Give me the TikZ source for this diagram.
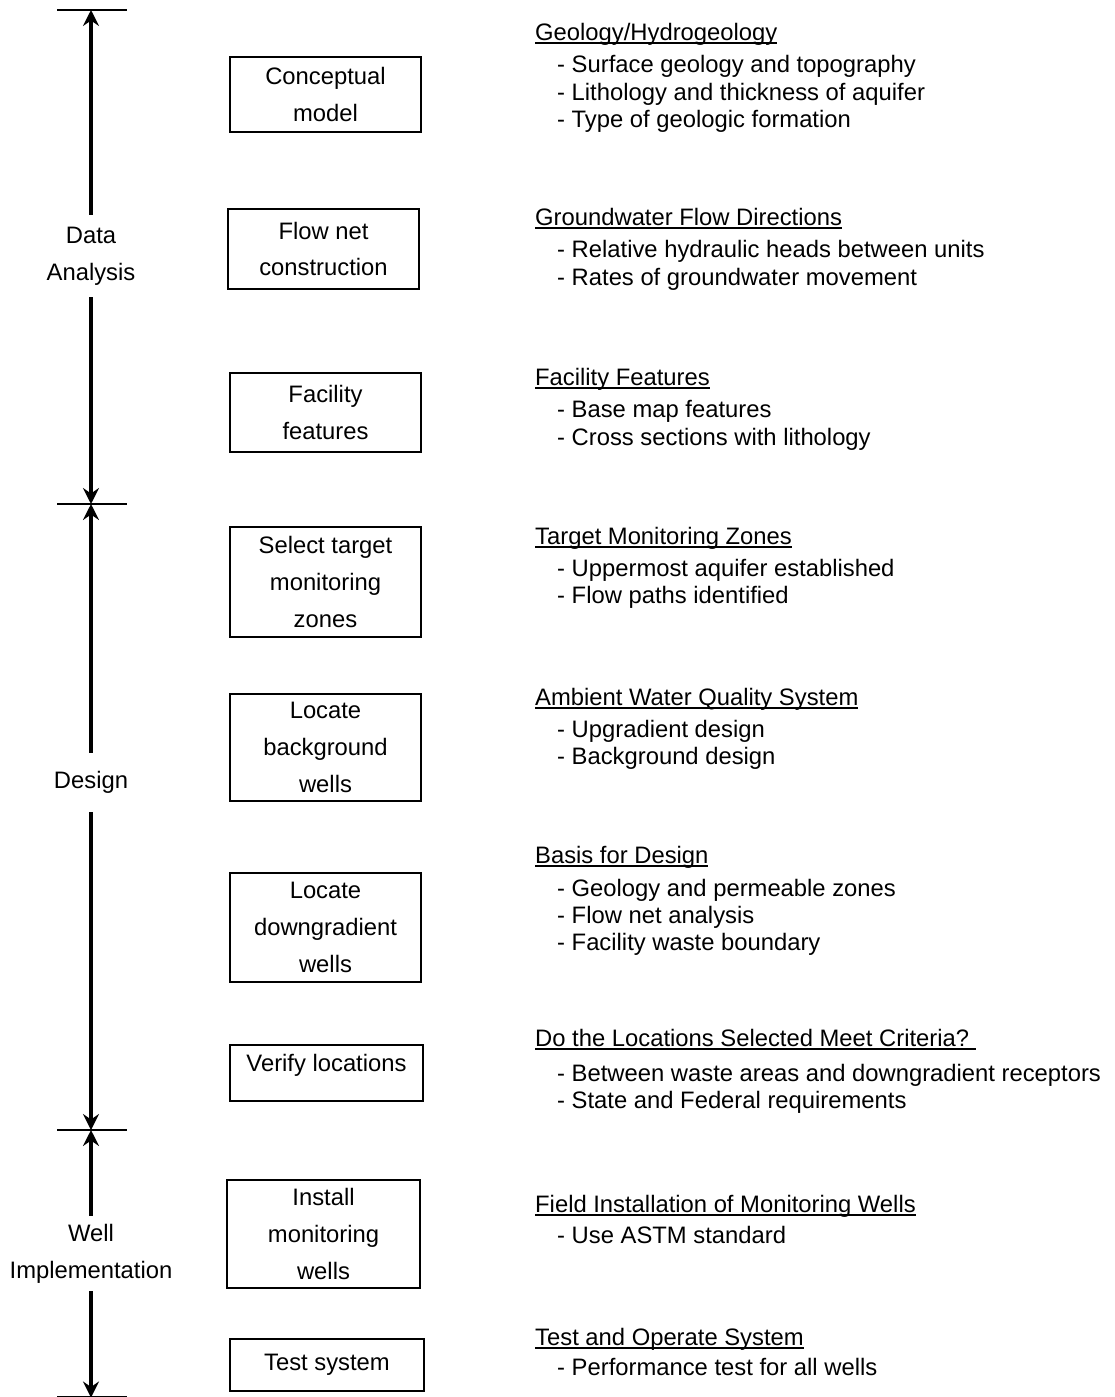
\documentclass[tikz,border=0pt]{standalone}
\usepackage{fontspec}
\setmainfont{Liberation Sans}
\usetikzlibrary{arrows.meta}
\newcommand\undl[1]{\setbox0=\hbox{#1}\rlap{\rule[-3.5pt]{\wd0}{1.7pt}}\box0}
\newcommand\ditem[3]{\node [item] (#1) at #2 {- #3};}

\begin{document}
\begin{tikzpicture}[x=1pt, y=-1pt,
    font=\fontsize{23.8}{36.7}\selectfont,
    stepbox/.style={draw, line width=1.3pt, inner sep=0, align=center, minimum width=191pt},
    phase/.style={inner sep=0, align=center},
    head/.style={anchor=base west, inner sep=0},
    item/.style={anchor=base west, inner sep=0},
    axis/.style={line width=3.5pt, -{Stealth[length=16pt, width=16pt, inset=5.5pt]}},
    tick/.style={line width=1.3pt}]
  \useasboundingbox (0,0) rectangle (1114,1397);

  \node [phase, minimum height=82pt] (da) at (91,256) {Data\\Analysis};
  \node [phase, minimum height=59pt] (ds) at (91,782.5) {Design};
  \node [phase, minimum height=75pt] (wi) at (91,1253.5) {Well\\Implementation};

  \coordinate (t0) at (91,10);
  \coordinate (t1) at (91,504);
  \coordinate (t2) at (91,1130);
  \coordinate (t3) at (91,1397);
  \foreach \t in {t0,t1,t2,t3}
    \draw [tick] ([xshift=-34pt]\t) -- ([xshift=36pt]\t);

  \draw [axis] (da) -- (t0);
  \draw [axis] (da) -- (t1);
  \draw [axis] (ds) -- (t1);
  \draw [axis] (ds) -- (t2);
  \draw [axis] (wi) -- (t2);
  \draw [axis] (wi) -- ([yshift=-0.5pt]t3);

  \node [stepbox, minimum height=75pt] (cm) at (325.5,94.5) {Conceptual\\model};
  \node [stepbox, minimum height=80pt] (fn) at (323.5,249) {Flow net\\construction};
  \node [stepbox, minimum height=79pt] (ff) at (325.5,412.5) {Facility\\features};
  \node [stepbox, minimum height=110pt] (st) at (325.5,582) {Select target\\monitoring\\zones};
  \node [stepbox, minimum height=107pt] (bg) at (325.5,747.5) {Locate\\background\\wells};
  \node [stepbox, minimum height=109pt] (dg) at (325.5,927.5) {Locate\\downgradient\\wells};
  \node [stepbox, minimum width=193pt, minimum height=56pt, text depth=21pt] (vl) at (326.5,1073) {Verify locations};
  \node [stepbox, minimum width=193pt, minimum height=108pt] (im) at (323.5,1234) {Install\\monitoring\\wells};
  \node [stepbox, minimum width=194pt, minimum height=52pt] (ts) at (327,1365) {Test system};

  \node [head] (h1) at (535,40.5) {\undl{Geology/Hydrogeology}};
  \ditem{h1a}{(557,73)}{Surface geology and topography}
  \ditem{h1b}{(557,100)}{Lithology and thickness of aquifer}
  \ditem{h1c}{(557,127)}{Type of geologic formation}

  \node [head] (h2) at (535,225) {\undl{Groundwater Flow Directions}};
  \ditem{h2a}{(557,257.5)}{Relative hydraulic heads between units}
  \ditem{h2b}{(557,285)}{Rates of groundwater movement}

  \node [head] (h3) at (535,385) {\undl{Facility Features}};
  \ditem{h3a}{(557,417)}{Base map features}
  \ditem{h3b}{(557,445)}{Cross sections with lithology}

  \node [head] (h4) at (535,544) {\undl{Target Monitoring Zones}};
  \ditem{h4a}{(557,576.5)}{Uppermost aquifer established}
  \ditem{h4b}{(557,603.5)}{Flow paths identified}

  \node [head] (h5) at (535,705) {\undl{Ambient Water Quality System}};
  \ditem{h5a}{(557,737)}{Upgradient design}
  \ditem{h5b}{(557,764)}{Background design}

  \node [head] (h6) at (535,863) {\undl{Basis for Design}};
  \ditem{h6a}{(557,896)}{Geology and permeable zones}
  \ditem{h6b}{(557,923)}{Flow net analysis}
  \ditem{h6c}{(557,950)}{Facility waste boundary}

  \node [head] (h7) at (535,1046) {\undl{Do the Locations Selected Meet Criteria?\ }};
  \ditem{h7a}{(557,1081.5)}{Between waste areas and downgradient receptors}
  \ditem{h7b}{(557,1108.5)}{State and Federal requirements}

  \node [head] (h8) at (535,1212) {\undl{Field Installation of Monitoring Wells}};
  \ditem{h8a}{(557,1243.5)}{Use ASTM standard}

  \node [head] (h9) at (535,1345) {\undl{Test and Operate System}};
  \ditem{h9a}{(557,1375.5)}{Performance test for all wells}
\end{tikzpicture}
\end{document}
